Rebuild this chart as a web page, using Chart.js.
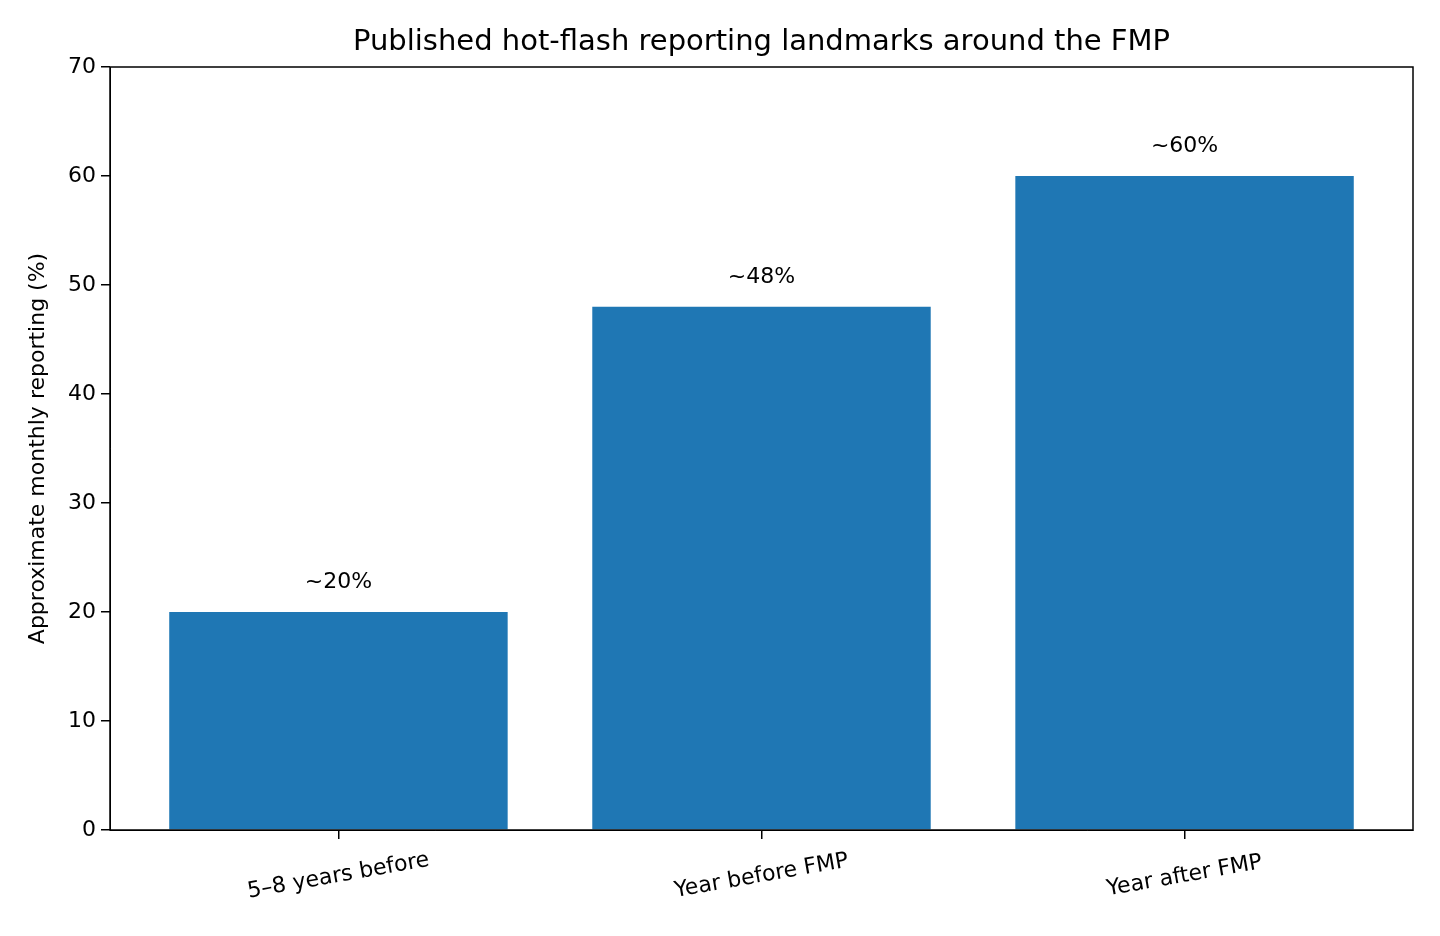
<!DOCTYPE html>
<html><head><meta charset="utf-8">
<script src="https://cdn.jsdelivr.net/npm/chart.js@4"></script>
<style>html,body{margin:0;padding:0;background:#fff}#w{width:1440px;height:936px}</style>
</head><body><div id="w"><canvas id="c" width="1440" height="936"></canvas></div>
<script>
const categories = ["5–8 years before", "Year before FMP", "Year after FMP"];
const values = [20, 48, 60];
const valueLabels = ["~20%", "~48%", "~60%"];
const yTicks = [0, 10, 20, 30, 40, 50, 60, 70];
const titleText = 'Published hot-flash reporting landmarks around the FMP';
const yTitle = 'Approximate monthly reporting (%)';

const F = "'DejaVu Sans', sans-serif";
const TL = 9;
const frame = {
  id: 'frame',
  afterDatasetsDraw(chart) {
    const {ctx, chartArea: a} = chart;
    const xs = chart.scales.x, ys = chart.scales.y;
    ctx.save();
    ctx.strokeStyle = '#000'; ctx.lineWidth = 1.5;
    ctx.strokeRect(a.left, a.top, a.right - a.left, a.bottom - a.top);
    ctx.fillStyle = '#000';
    // title
    ctx.font = "29px " + F; ctx.textAlign = 'center'; ctx.textBaseline = 'middle';
    ctx.fillText(titleText, (a.left + a.right) / 2, 42);
    // value labels
    ctx.font = "22px " + F;
    values.forEach((v, i) => ctx.fillText(valueLabels[i], xs.getPixelForValue(i), ys.getPixelForValue(v) - 30));
    // y tick labels
    ctx.textAlign = 'right';
    yTicks.forEach(v => ctx.fillText(String(v), a.left - TL - 5, ys.getPixelForValue(v)));
    // x labels rotated
    ctx.textAlign = 'center';
    categories.forEach((c, i) => {
      ctx.save();
      ctx.translate(xs.getPixelForValue(i), a.bottom + 46);
      ctx.rotate(-10 * Math.PI / 180);
      ctx.fillText(c, 0, 0);
      ctx.restore();
    });
    // y title
    ctx.save();
    ctx.translate(38, (a.top + a.bottom) / 2);
    ctx.rotate(-Math.PI / 2);
    ctx.fillText(yTitle, 0, 0);
    ctx.restore();
    ctx.restore();
  }
};

new Chart(document.getElementById('c'), {
  type: 'bar',
  data: { datasets: [{ data: values.map((v, i) => ({x: i, y: v})), backgroundColor: '#1f77b4',
    barPercentage: 0.8, categoryPercentage: 1.0 }] },
  options: {
    responsive: false, animation: false, devicePixelRatio: 1,
    layout: { padding: { top: 67, right: 27, bottom: 106 - TL, left: 110 - TL } },
    plugins: { legend: { display: false }, tooltip: { enabled: false }, title: { display: false } },
    scales: {
      x: { type: 'linear', min: -0.54, max: 2.54, offset: false,
        afterBuildTicks: s => { s.ticks = categories.map((_, i) => ({value: i})); },
        ticks: { display: false },
        grid: { drawOnChartArea: false, offset: false, tickLength: TL, color: '#000', lineWidth: 1.5 },
        border: { color: '#000' } },
      y: { min: 0, max: 70,
        afterBuildTicks: s => { s.ticks = yTicks.map(v => ({value: v})); },
        ticks: { display: false },
        grid: { drawOnChartArea: false, tickLength: TL, color: '#000', lineWidth: 1.5 },
        border: { color: '#000' } }
    }
  },
  plugins: [frame]
});
</script></body></html>
